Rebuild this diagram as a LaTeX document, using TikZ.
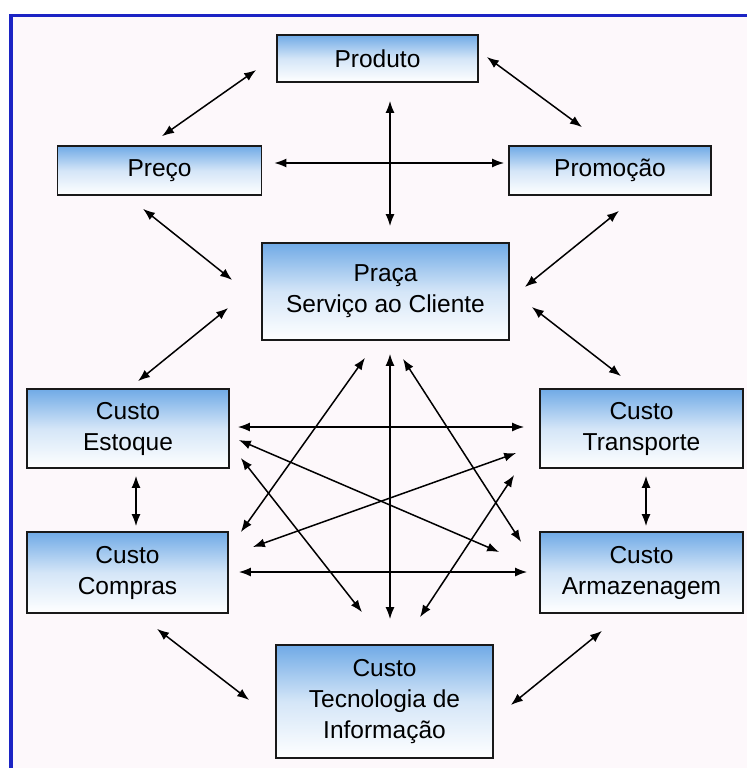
\documentclass[tikz,border=0pt]{standalone}
\usepackage{fontspec}
\setmainfont{Liberation Sans}
\usetikzlibrary{arrows.meta}

\definecolor{boxblue}{RGB}{112,170,230}
\definecolor{frameblue}{RGB}{28,36,196}
\definecolor{paper}{RGB}{253,248,251}

\begin{document}
\begin{tikzpicture}[x=1pt, y=-1pt,
    box/.style={draw=black!90, line width=1.7pt, top color=boxblue, bottom color=white,
                middle color=boxblue!30!white, inner sep=0pt, align=center,
                font=\fontsize{24.5}{31}\selectfont},
    link/.style={line width=1.5pt, {Latex[length=12pt,width=9pt]}-{Latex[length=12pt,width=9pt]}}]

    % Window frame
    \useasboundingbox (0,0) rectangle (747,768);
    \fill[paper] (9,14) rectangle (747,768);
    \draw[frameblue, line width=3.5pt] (11,768) -- (11,15.5) -- (747,15.5);

    % Marketing mix
    \node[box, minimum width=201pt, minimum height=47pt] (prod) at (377.5,58.5) {Produto};
    \node[box, minimum width=204pt, minimum height=49pt] (preco) at (159.5,170.5) {Preço};
    \node[box, minimum width=202pt, minimum height=49pt] (promo) at (610,170.5) {Promoção};
    \node[box, minimum width=247pt, minimum height=97pt] (praca) at (385.5,291.5) {Praça\\Serviço ao Cliente};

    % Logistics costs
    \node[box, minimum width=202pt, minimum height=79pt] (estoque) at (128,428.5) {Custo\\Estoque};
    \node[box, minimum width=203pt, minimum height=79pt] (transp) at (641.5,428.5) {Custo\\Transporte};
    \node[box, minimum width=201pt, minimum height=81pt] (compras) at (127.5,572.5) {Custo\\Compras};
    \node[box, minimum width=203pt, minimum height=81pt] (armaz) at (641.5,572.5) {Custo\\Armazenagem};
    \node[box, minimum width=217pt, minimum height=113pt] (ti) at (384.5,701.5) {Custo\\Tecnologia de\\Informação};

    % Upper links
    \draw[link] ([shift={(-20,11.5)}]prod.west) -- ([shift={(2.5,-9)}]preco.north);
    \draw[link] ([shift={(8,-1.5)}]prod.east) -- ([shift={(-28,-18)}]promo.north);
    \draw[link] ([shift={(12.5,18)}]prod.south) -- ([shift={(4.5,-16)}]praca.north);
    \draw[link] ([shift={(12,-7.5)}]preco.east) -- ([shift={(-4,-7.5)}]promo.west);
    \draw[link] ([shift={(-16.5,13)}]preco.south) -- ([shift={(-29,-11.5)}]praca.west);
    \draw[link] ([shift={(9,15)}]promo.south) -- ([shift={(15,-4.5)}]praca.east);
    \draw[link] ([shift={(-33,16.5)}]praca.west) -- ([shift={(10,-7)}]estoque.north);
    \draw[link] ([shift={(22,15.5)}]praca.east) -- ([shift={(-20.5,-12)}]transp.north);

    % Crossing links
    \draw[link] ([shift={(8,-1.5)}]estoque.east) -- ([shift={(-15,-1.5)}]transp.west);
    \draw[link] ([shift={(9,11.5)}]estoque.east) -- ([shift={(-40,-20.5)}]armaz.west);
    \draw[link] ([shift={(11,29.5)}]estoque.east) -- ([shift={(-22.5,-32)}]ti.north);
    \draw[link] ([shift={(12,-40.5)}]compras.east) -- ([shift={(-20.5,17)}]praca.south);
    \draw[link] ([shift={(24,-25.5)}]compras.east) -- ([shift={(-23,24.5)}]transp.west);
    \draw[link] ([shift={(10,-0.5)}]compras.east) -- ([shift={(-12,-0.5)}]armaz.west);
    \draw[link] ([shift={(4.5,13)}]praca.south) -- ([shift={(5.5,-25)}]ti.north);
    \draw[link] ([shift={(17.5,18)}]praca.south) -- ([shift={(-18,-30.5)}]armaz.west);
    \draw[link] ([shift={(-25,46.5)}]transp.west) -- ([shift={(35.5,-27)}]ti.north);

    % Lower links
    \draw[link] ([shift={(8,7)}]estoque.south) -- ([shift={(8.5,-5)}]compras.north);
    \draw[link] ([shift={(4.5,7)}]transp.south) -- ([shift={(4.5,-5)}]armaz.north);
    \draw[link] ([shift={(29.5,15)}]compras.south) -- ([shift={(-26,-1.5)}]ti.west);
    \draw[link] ([shift={(-39.5,17)}]armaz.south) -- ([shift={(17,3.5)}]ti.east);
\end{tikzpicture}
\end{document}
